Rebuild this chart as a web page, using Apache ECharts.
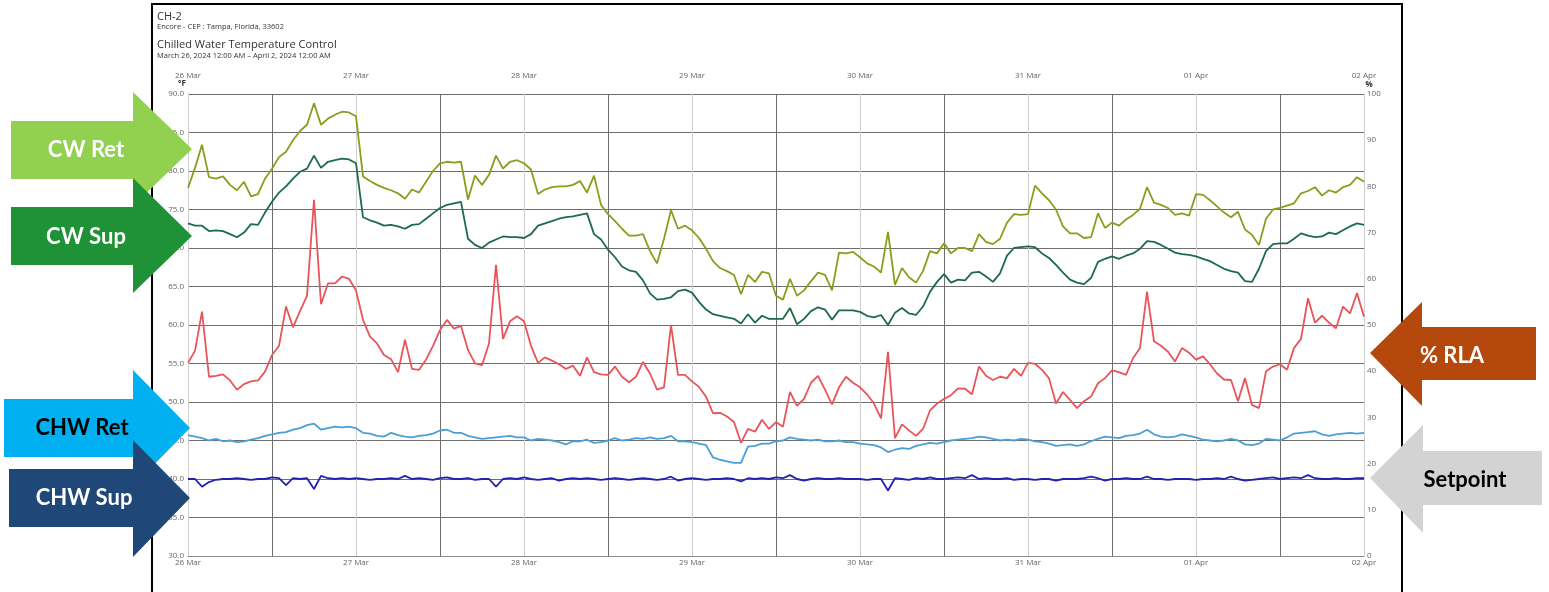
<!DOCTYPE html>
<html>
<head>
<meta charset="utf-8">
<script src="https://cdn.jsdelivr.net/npm/echarts@6/dist/echarts.min.js"></script>
<style>
  html, body { margin: 0; padding: 0; background: #fff; }
  #chart { width: 1549px; height: 592px; }
</style>
</head>
<body>
<div id="chart"></div>
<script>
// Day labels for the x axis (one per midnight, 24 h apart)
const dayLabels = ['26 Mar', '27 Mar', '28 Mar', '29 Mar', '30 Mar', '31 Mar', '01 Apr', '02 Apr'];

// Hourly readings, 26 Mar 00:00 → 02 Apr 00:00 (169 points each)
// Condenser water return, °F
const cwRet = [
  77.8, 80.4, 83.4, 79.2, 79.0, 79.3, 78.2, 77.5, 78.6, 76.7,
  77.0, 79.0, 80.3, 81.8, 82.5, 84.0, 85.2, 86.0, 88.8, 86.0,
  86.8, 87.3, 87.7, 87.6, 87.1, 79.3, 78.7, 78.2, 77.8, 77.5,
  77.1, 76.4, 77.6, 77.2, 78.6, 80.0, 81.0, 81.2, 81.1, 81.2,
  76.3, 79.4, 78.2, 79.5, 82.0, 80.3, 81.2, 81.4, 81.0, 80.2,
  77.0, 77.6, 77.9, 78.0, 78.0, 78.2, 78.7, 77.2, 79.4, 75.6,
  74.4, 73.5, 72.5, 71.6, 71.6, 71.8, 69.6, 68.0, 71.2, 74.9,
  72.5, 72.9, 72.3, 71.3, 69.9, 68.3, 67.4, 67.0, 66.5, 64.0,
  66.5, 65.6, 66.9, 66.7, 63.8, 63.3, 66.0, 63.8, 64.5, 65.7,
  66.8, 66.5, 64.5, 69.4, 69.3, 69.5, 68.8, 68.0, 67.6, 66.8,
  72.1, 65.2, 67.4, 66.2, 65.5, 67.0, 69.6, 69.3, 70.6, 69.3,
  70.0, 70.0, 69.6, 71.8, 70.8, 70.5, 71.2, 73.3, 74.4, 74.3,
  74.4, 78.1, 77.1, 76.2, 75.0, 72.8, 71.9, 71.9, 71.3, 71.4,
  74.5, 72.6, 73.3, 72.9, 73.7, 74.3, 75.1, 77.9, 75.9, 75.6,
  75.2, 74.3, 74.5, 74.2, 77.0, 76.9, 76.2, 75.4, 74.6, 74.0,
  74.7, 72.4, 71.7, 70.4, 73.8, 75.0, 75.2, 75.5, 75.8, 77.1,
  77.4, 77.9, 76.8, 77.5, 77.2, 77.9, 78.2, 79.2, 78.6
];

// Condenser water supply, °F
const cwSup = [
  73.2, 72.9, 72.9, 72.2, 72.3, 72.2, 71.8, 71.4, 72.0, 73.1,
  73.0, 74.6, 76.0, 77.2, 78.0, 79.0, 79.9, 80.3, 82.0, 80.4,
  81.2, 81.4, 81.6, 81.5, 81.0, 74.0, 73.6, 73.3, 72.9, 73.0,
  72.8, 72.5, 73.0, 73.1, 73.8, 74.5, 75.2, 75.6, 75.8, 76.0,
  71.2, 70.4, 70.0, 70.7, 71.1, 71.5, 71.4, 71.4, 71.3, 71.8,
  72.9, 73.2, 73.5, 73.8, 74.0, 74.1, 74.3, 74.5, 71.8, 71.1,
  69.8, 68.8, 67.6, 67.1, 66.9, 65.8, 64.1, 63.3, 63.4, 63.6,
  64.4, 64.6, 64.2, 63.0, 62.0, 61.4, 61.2, 61.0, 60.8, 60.2,
  61.4, 60.3, 61.2, 60.8, 60.8, 60.8, 62.2, 60.1, 60.8, 61.8,
  62.3, 62.0, 60.7, 61.9, 61.9, 61.9, 61.7, 61.2, 61.0, 61.3,
  60.0, 61.6, 62.2, 61.5, 61.3, 62.4, 64.3, 65.6, 66.6, 65.5,
  65.9, 65.8, 66.8, 66.9, 66.3, 65.6, 66.7, 69.0, 70.0, 70.1,
  70.2, 70.1, 69.3, 68.7, 67.8, 66.8, 65.9, 65.5, 65.3, 66.1,
  68.2, 68.6, 68.9, 68.6, 69.0, 69.3, 69.9, 70.9, 70.8, 70.4,
  69.9, 69.4, 69.2, 69.1, 68.9, 68.6, 68.3, 67.8, 67.3, 67.0,
  66.8, 65.7, 65.6, 67.3, 69.6, 70.5, 70.6, 70.6, 71.2, 71.9,
  71.6, 71.4, 71.5, 72.0, 71.8, 72.3, 72.8, 73.2, 73.0
];

// Compressor load, % RLA (right axis)
const rla = [
  41.8, 44.4, 52.9, 38.8, 39.0, 39.3, 38.0, 36.0, 37.2, 37.8,
  38.0, 39.9, 43.5, 45.5, 54.0, 49.5, 53.0, 56.3, 77.1, 54.5,
  59.0, 59.0, 60.5, 60.0, 57.5, 51.1, 47.5, 46.0, 43.5, 42.6,
  39.8, 46.8, 40.5, 40.3, 42.5, 45.5, 48.9, 51.1, 49.2, 49.8,
  44.6, 41.7, 41.3, 46.0, 63.0, 47.0, 50.8, 51.9, 50.8, 45.5,
  41.8, 43.0, 42.3, 41.5, 40.5, 41.2, 39.0, 43.0, 39.8, 39.3,
  39.2, 41.0, 38.8, 37.6, 38.8, 42.0, 39.5, 36.0, 36.5, 50.0,
  39.2, 39.2, 37.8, 36.6, 34.5, 30.9, 31.0, 30.2, 29.0, 24.5,
  27.5, 26.9, 29.5, 27.5, 29.0, 28.0, 35.5, 32.5, 34.0, 37.5,
  39.0, 36.0, 32.8, 36.5, 38.8, 37.5, 36.5, 35.0, 33.0, 29.8,
  44.2, 25.5, 28.5, 27.2, 26.0, 27.5, 31.5, 33.0, 34.0, 34.8,
  36.3, 36.2, 35.0, 41.0, 39.0, 38.1, 38.8, 38.5, 40.5, 39.0,
  41.8, 41.6, 40.3, 38.5, 33.0, 35.5, 33.8, 32.0, 33.5, 34.5,
  37.4, 38.5, 40.2, 39.8, 39.2, 42.8, 45.0, 57.2, 46.5, 45.5,
  44.2, 42.1, 45.0, 44.0, 42.5, 43.2, 41.5, 39.5, 38.2, 38.1,
  33.5, 38.5, 32.7, 32.0, 40.0, 41.0, 41.5, 40.3, 45.0, 47.0,
  55.8, 50.5, 52.0, 50.5, 49.3, 54.0, 52.5, 56.9, 51.8
];

// Chilled water return, °F
const chwRet = [
  45.7, 45.5, 45.3, 45.0, 45.2, 44.9, 45.0, 44.8, 44.9, 45.1,
  45.3, 45.6, 45.8, 46.0, 46.1, 46.4, 46.6, 47.0, 47.2, 46.4,
  46.6, 46.8, 46.7, 46.8, 46.6, 46.0, 45.9, 45.6, 45.5, 46.0,
  45.7, 45.5, 45.4, 45.6, 45.7, 45.9, 46.3, 46.4, 46.0, 46.0,
  45.6, 45.4, 45.2, 45.3, 45.4, 45.5, 45.6, 45.4, 45.4, 45.0,
  45.2, 45.1, 45.0, 44.8, 44.5, 44.9, 44.9, 45.1, 44.7, 44.8,
  45.0, 45.3, 45.0, 45.1, 45.3, 45.2, 45.4, 45.2, 45.3, 45.6,
  44.9, 44.9, 44.8, 44.6, 44.4, 42.8, 42.5, 42.3, 42.1, 42.1,
  44.2, 44.3, 44.6, 44.6, 44.9, 45.0, 45.4, 45.2, 45.1, 45.0,
  45.1, 44.9, 44.9, 45.0, 44.8, 44.8, 44.6, 44.5, 44.4, 44.1,
  43.5, 43.8, 44.0, 43.9, 44.3, 44.5, 44.7, 44.6, 44.8, 45.0,
  45.1, 45.2, 45.3, 45.5, 45.4, 45.2, 45.0, 45.1, 45.0, 45.2,
  45.1, 44.9, 44.8, 44.6, 44.3, 44.4, 44.5, 44.3, 44.5, 44.9,
  45.2, 45.5, 45.4, 45.3, 45.6, 45.7, 45.9, 46.4, 45.8, 45.5,
  45.4, 45.5, 45.8, 45.6, 45.4, 45.1, 45.0, 44.9, 45.0, 45.2,
  45.0, 44.5, 44.4, 44.6, 45.2, 45.1, 45.0, 45.4, 45.9, 46.0,
  46.1, 46.2, 45.8, 45.6, 45.8, 45.9, 46.0, 45.9, 46.0
];

// Chilled water supply, °F
const chwSup = [
  40.0, 40.0, 39.0, 39.6, 39.9, 40.0, 40.0, 40.1, 40.0, 39.9,
  40.0, 40.0, 40.2, 40.1, 39.2, 40.1, 40.0, 40.1, 38.7, 40.4,
  40.1, 40.0, 40.1, 40.0, 40.1, 40.0, 39.9, 40.0, 40.0, 40.1,
  40.0, 40.4, 40.0, 40.1, 40.0, 39.9, 40.1, 40.2, 40.0, 40.0,
  40.1, 39.9, 40.0, 40.0, 39.0, 40.0, 40.1, 40.0, 40.2, 40.0,
  39.9, 40.0, 40.1, 39.8, 40.0, 40.1, 40.0, 40.1, 40.0, 39.9,
  40.0, 40.1, 40.0, 39.9, 40.0, 40.1, 40.0, 39.9, 40.0, 40.3,
  39.8, 40.0, 40.1, 40.0, 39.9, 40.0, 40.0, 40.1, 40.0, 39.7,
  40.1, 40.0, 40.1, 40.0, 40.2, 40.1, 40.5, 40.0, 39.8, 40.0,
  40.1, 40.0, 40.0, 40.1, 40.0, 40.0, 40.0, 39.9, 40.0, 40.0,
  38.5, 40.1, 40.0, 39.9, 40.1, 40.0, 40.2, 40.0, 40.0, 40.1,
  40.2, 40.1, 40.5, 40.0, 40.1, 40.0, 40.0, 40.1, 39.9, 40.0,
  40.0, 39.9, 40.0, 40.0, 39.8, 40.0, 40.0, 40.0, 40.1, 40.3,
  40.1, 39.8, 40.0, 40.0, 40.1, 40.0, 40.0, 40.3, 40.0, 40.0,
  39.9, 40.0, 40.0, 40.0, 39.9, 40.0, 40.0, 40.1, 40.0, 40.3,
  40.0, 39.8, 39.9, 40.0, 40.1, 40.2, 40.0, 40.1, 40.2, 40.1,
  40.5, 40.1, 40.0, 40.0, 40.1, 40.0, 40.0, 40.1, 40.1
];

const FONT = '"Open Sans", "Noto Sans", sans-serif';
const ARROW_FONT = 'bold 22px Lato, "Open Sans", sans-serif';

const toPairs = arr => arr.map((v, i) => [i, v]);
const dayFormatter = v => (v % 24 === 0 ? dayLabels[v / 24] : '');

function lineSeries(name, data, color, yAxisIndex) {
  return {
    name, type: 'line', data: toPairs(data), yAxisIndex: yAxisIndex || 0,
    showSymbol: false, symbol: 'none', smooth: false,
    lineStyle: { color, width: 1.8 }, itemStyle: { color }
  };
}

// Block arrow pointing right; body from x0 to xb, head tip at (xt, yc)
function arrowRight(x0, xb, yt, yb, ht, hb, xt, yc, color) {
  return {
    type: 'polygon', z: 100,
    shape: { points: [[x0, yt], [xb, yt], [xb, ht], [xt, yc], [xb, hb], [xb, yb], [x0, yb]] },
    style: { fill: color, stroke: null }
  };
}
// Block arrow pointing left; tip at (xt, yc), head base at xb, body to x1
function arrowLeft(xt, yc, xb, ht, hb, yt, yb, x1, color) {
  return {
    type: 'polygon', z: 100,
    shape: { points: [[xt, yc], [xb, ht], [xb, yt], [x1, yt], [x1, yb], [xb, yb], [xb, hb]] },
    style: { fill: color, stroke: null }
  };
}
function label(text, x, y, color) {
  return {
    type: 'text', z: 101, x, y,
    style: {
      text, fill: color, font: ARROW_FONT,
      align: 'center', verticalAlign: 'middle',
      textAlign: 'center', textVerticalAlign: 'middle'
    }
  };
}
function plainText(text, x, y, font, align, color) {
  return {
    type: 'text', z: 50, x, y,
    style: {
      text, fill: color || '#333', font,
      align: align || 'left', verticalAlign: 'middle',
      textAlign: align || 'left', textVerticalAlign: 'middle'
    }
  };
}

const chart = echarts.init(document.getElementById('chart'), null, { renderer: 'canvas' });

const axisLabelStyle = { color: '#666', fontSize: 8, fontFamily: FONT };

chart.setOption({
  backgroundColor: '#fff',
  animation: false,
  grid: { left: 188, right: 185, top: 94, bottom: 36, containLabel: false },
  xAxis: [
    {
      type: 'value', min: 0, max: 168, interval: 12, position: 'bottom',
      axisLine: { show: true, lineStyle: { color: '#8a8a8a', width: 1 } },
      axisTick: { show: false },
      axisLabel: Object.assign({ formatter: dayFormatter, margin: 3, showMinLabel: true, showMaxLabel: true }, axisLabelStyle),
      splitLine: { show: true, lineStyle: { color: ['#cfcfcf', '#6e6e6e'], width: 1 } }
    },
    {
      type: 'value', min: 0, max: 168, interval: 12, position: 'top',
      axisLine: { show: false }, axisTick: { show: false },
      axisLabel: Object.assign({ formatter: dayFormatter, margin: 14, showMinLabel: true, showMaxLabel: true }, axisLabelStyle),
      splitLine: { show: false }
    }
  ],
  yAxis: [
    {
      type: 'value', min: 30, max: 90, interval: 5, position: 'left',
      axisLine: { show: true, lineStyle: { color: '#9a9a9a' } },
      axisTick: { show: false },
      axisLabel: Object.assign({ formatter: v => v.toFixed(1), margin: 4 }, axisLabelStyle),
      splitLine: { show: true, lineStyle: { color: '#6e6e6e', width: 1 } }
    },
    {
      type: 'value', min: 0, max: 100, interval: 10, position: 'right',
      axisLine: { show: true, lineStyle: { color: '#d0d0d0' } },
      axisTick: { show: false },
      axisLabel: Object.assign({ margin: 3 }, axisLabelStyle),
      splitLine: { show: false }
    }
  ],
  series: [
    lineSeries('CW Ret', cwRet, '#8c9c1b'),
    lineSeries('CW Sup', cwSup, '#1d6b47'),
    lineSeries('% RLA', rla, '#e8545a', 1),
    lineSeries('CHW Ret', chwRet, '#4a9fd8'),
    lineSeries('CHW Sup', chwSup, '#2222b0')
  ],
  graphic: [
    // outer frame
    { type: 'rect', z: 40, shape: { x: 152, y: 4, width: 1250, height: 620 },
      style: { fill: 'none', stroke: '#000', lineWidth: 2 } },
    // header
    plainText('CH-2', 157, 17, '11px ' + FONT),
    plainText('Encore - CEP : Tampa, Florida, 33602', 157, 27, '7.5px ' + FONT),
    plainText('Chilled Water Temperature Control', 157, 45, '11px ' + FONT),
    plainText('March 26, 2024 12:00 AM – April 2, 2024 12:00 AM', 157, 56, '7.5px ' + FONT),
    // axis units
    plainText('°F', 182, 84, 'bold 8px ' + FONT, 'center'),
    plainText('%', 1369, 85, 'bold 8px ' + FONT, 'center'),
    // callout arrows, left side
    arrowRight(11, 133, 121, 179, 92, 206, 192, 149, '#92d050'),
    label('CW Ret', 86, 150, '#ffffff'),
    arrowRight(11, 133, 207, 265, 178, 293, 192, 236, '#1f9238'),
    label('CW Sup', 86, 237, '#ffffff'),
    arrowRight(4, 133, 399, 457, 370, 486, 190, 428, '#00b0f0'),
    label('CHW Ret', 82, 428, '#000000'),
    arrowRight(9, 133, 469, 527, 440, 557, 190, 498, '#1f4778'),
    label('CHW Sup', 84, 498, '#ffffff'),
    // callout arrows, right side
    arrowLeft(1370, 353, 1422, 302, 406, 327, 380, 1536, '#b5490d'),
    label('% RLA', 1452, 356, '#ffffff'),
    arrowLeft(1370, 478, 1423, 425, 533, 451, 505, 1542, '#d3d3d3'),
    label('Setpoint', 1465, 480, '#000000')
  ]
});
</script>
</body>
</html>
